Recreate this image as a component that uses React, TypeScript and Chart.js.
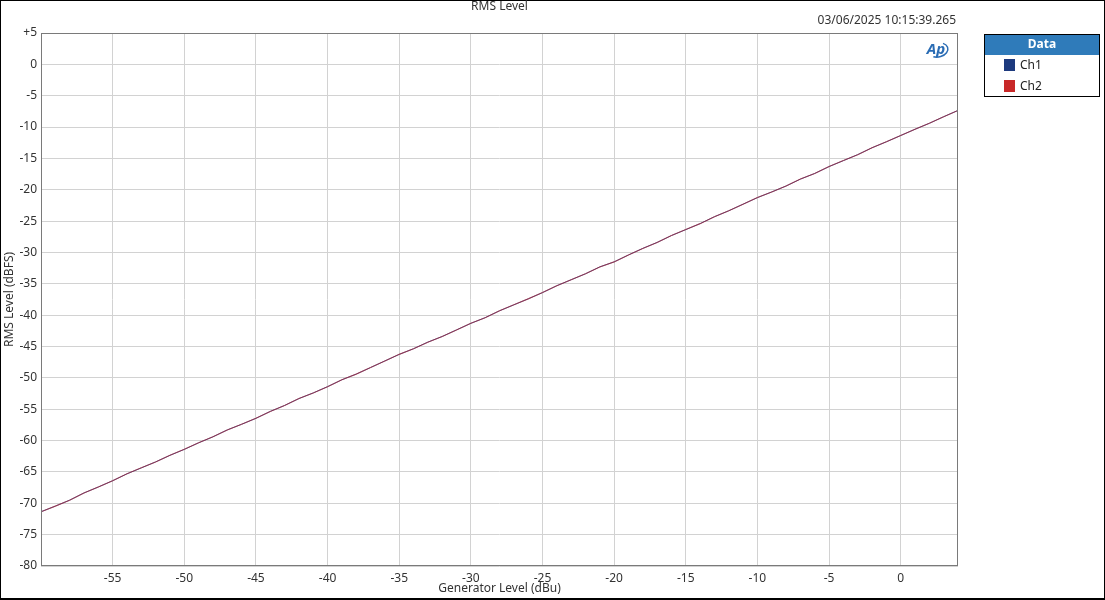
import React, { useEffect, useRef } from "react";
import { Chart, registerables } from "chart.js";

Chart.register(...registerables);

const generatorLevels = [
  -60, -59, -58, -57, -56, -55, -54, -53, -52, -51, -50, -49, -48, -47, -46, -45,
  -44, -43, -42, -41, -40, -39, -38, -37, -36, -35, -34, -33, -32, -31, -30, -29,
  -28, -27, -26, -25, -24, -23, -22, -21, -20, -19, -18, -17, -16, -15, -14, -13,
  -12, -11, -10, -9, -8, -7, -6, -5, -4, -3, -2, -1, 0, 1, 2, 3, 4,
];

const ch1Levels = [
  -71.35, -70.45, -69.5, -68.35, -67.4, -66.4, -65.3, -64.35, -63.4, -62.35, -61.4, -60.35,
  -59.4, -58.3, -57.4, -56.45, -55.35, -54.4, -53.3, -52.4, -51.4, -50.3, -49.4, -48.35,
  -47.3, -46.25, -45.35, -44.3, -43.4, -42.35, -41.3, -40.4, -39.3, -38.35, -37.4, -36.4,
  -35.3, -34.35, -33.4, -32.3, -31.5, -30.4, -29.35, -28.4, -27.3, -26.35, -25.4, -24.3,
  -23.35, -22.3, -21.25, -20.35, -19.4, -18.3, -17.4, -16.3, -15.35, -14.4, -13.3, -12.35,
  -11.35, -10.35, -9.4, -8.35, -7.35,
];

const ch2Levels = [
  -71.35, -70.45, -69.5, -68.35, -67.4, -66.4, -65.3, -64.35, -63.4, -62.35, -61.4, -60.35,
  -59.4, -58.3, -57.4, -56.45, -55.35, -54.4, -53.3, -52.4, -51.4, -50.3, -49.4, -48.35,
  -47.3, -46.25, -45.35, -44.3, -43.4, -42.35, -41.3, -40.4, -39.3, -38.35, -37.4, -36.4,
  -35.3, -34.35, -33.4, -32.3, -31.5, -30.4, -29.35, -28.4, -27.3, -26.35, -25.4, -24.3,
  -23.35, -22.3, -21.25, -20.35, -19.4, -18.3, -17.4, -16.3, -15.35, -14.4, -13.3, -12.35,
  -11.35, -10.35, -9.4, -8.35, -7.35,
];

const xTickValues = [-55, -50, -45, -40, -35, -30, -25, -20, -15, -10, -5, 0];
const yTickValues = [-80, -75, -70, -65, -60, -55, -50, -45, -40, -35, -30, -25, -20, -15, -10, -5, 0, 5];
const xRange = [-60, 4];
const yRange = [-80, 5];

const chartTitle = "RMS Level";
const timestamp = "03/06/2025 10:15:39.265";
const xAxisTitle = "Generator Level (dBu)";
const yAxisTitle = "RMS Level (dBFS)";
const legendTitle = "Data";
const seriesNames = ["Ch1", "Ch2"];
const seriesColors = ["#1d3a7e", "#c82828"];

const FONT = '"Noto Sans", "Open Sans", sans-serif';

const decorPlugin = {
  id: "decor",
  beforeDraw(chart: any) {
    const ctx = chart.ctx;
    ctx.save();
    ctx.fillStyle = "#ffffff";
    ctx.fillRect(0, 0, chart.width, chart.height);
    ctx.restore();
  },
  afterDraw(chart: any) {
    const ctx = chart.ctx;
    const a = chart.chartArea;
    ctx.save();
    // plot border
    ctx.strokeStyle = "#7a7a7a";
    ctx.lineWidth = 1;
    ctx.strokeRect(Math.round(a.left) + 0.5, Math.round(a.top) + 0.5, Math.round(a.right - a.left) - 1, Math.round(a.bottom - a.top) - 1);

    // outer frame
    ctx.fillStyle = "#000000";
    ctx.fillRect(0, 0, chart.width, 1);
    ctx.fillRect(0, 0, 1, chart.height);
    ctx.fillRect(chart.width - 1, 0, 1, chart.height);
    ctx.fillRect(0, chart.height - 2, chart.width, 2);

    // titles
    ctx.fillStyle = "#333333";
    ctx.font = `12px ${FONT}`;
    ctx.textAlign = "center";
    ctx.textBaseline = "middle";
    ctx.fillText(chartTitle, (a.left + a.right) / 2, 7);
    ctx.fillText(xAxisTitle, (a.left + a.right) / 2, 589);
    ctx.textAlign = "right";
    ctx.fillText(timestamp, a.right - 2, 21);

    ctx.save();
    ctx.translate(10, (a.top + a.bottom) / 2);
    ctx.rotate(-Math.PI / 2);
    ctx.textAlign = "center";
    ctx.fillText(yAxisTitle, 0, 0);
    ctx.restore();

    // AP logo
    ctx.save();
    ctx.fillStyle = "#2a6cb4";
    ctx.font = `italic bold 15px ${FONT}`;
    ctx.textAlign = "center";
    ctx.textBaseline = "middle";
    ctx.fillText("Ap", 936, 50);
    ctx.strokeStyle = "#2a6cb4";
    ctx.lineWidth = 1.5;
    ctx.beginPath();
    ctx.ellipse(938, 50, 10, 7, -0.2, -0.9, 2.2);
    ctx.stroke();
    ctx.restore();

    // legend
    const lx = 984, ly = 34, lw = 116, lh = 63;
    ctx.fillStyle = "#2f7bba";
    ctx.fillRect(lx, ly, lw, 21);
    ctx.strokeStyle = "#000000";
    ctx.lineWidth = 1;
    ctx.strokeRect(lx + 0.5, ly + 0.5, lw - 1, lh - 1);
    ctx.fillStyle = "#ffffff";
    ctx.font = `bold 12px ${FONT}`;
    ctx.textAlign = "center";
    ctx.fillText(legendTitle, lx + lw / 2, ly + 10.5);
    ctx.font = `12px ${FONT}`;
    ctx.textAlign = "left";
    seriesNames.forEach((name, i) => {
      const cy = 65 + i * 21;
      ctx.fillStyle = seriesColors[i];
      ctx.fillRect(1004, cy - 6, 11, 12);
      ctx.fillStyle = "#222222";
      ctx.fillText(name, 1020, cy + 0.5);
    });
    ctx.restore();
  },
};

export default function App() {
  const ref = useRef<HTMLCanvasElement | null>(null);
  useEffect(() => {
    const canvas = ref.current;
    if (!canvas) return;
    const chart = new Chart(canvas, {
      type: "line",
      data: {
        datasets: [
          {
            label: seriesNames[0],
            data: generatorLevels.map((x, i) => ({ x, y: ch1Levels[i] })),
            borderColor: seriesColors[0],
            borderWidth: 1,
            pointRadius: 0,
            tension: 0,
            order: 2,
          },
          {
            label: seriesNames[1],
            data: generatorLevels.map((x, i) => ({ x, y: ch2Levels[i] })),
            borderColor: "rgba(200,45,55,0.6)",
            borderWidth: 1.1,
            pointRadius: 0,
            tension: 0,
            order: 1,
          },
        ],
      },
      options: {
        responsive: false,
        animation: false,
        layout: { padding: { top: 33, right: 147, bottom: 0, left: 0 } },
        plugins: { legend: { display: false }, title: { display: false }, tooltip: { enabled: false } },
        scales: {
          x: {
            type: "linear",
            min: xRange[0],
            max: xRange[1],
            afterBuildTicks: (s: any) => {
              s.ticks = xTickValues.map((v) => ({ value: v }));
            },
            afterFit: (s: any) => {
              s.height = 34;
            },
            grid: { color: "#d2d2d2", drawTicks: false, lineWidth: 1 },
            border: { display: false },
            ticks: {
              autoSkip: false,
              maxRotation: 0,
              padding: 5,
              color: "#333333",
              font: { family: FONT, size: 12 },
              callback: (v: any) => String(v),
            },
          },
          y: {
            type: "linear",
            min: yRange[0],
            max: yRange[1],
            afterBuildTicks: (s: any) => {
              s.ticks = yTickValues.map((v) => ({ value: v }));
            },
            afterFit: (s: any) => {
              s.width = 41;
            },
            grid: { color: "#d2d2d2", drawTicks: false, lineWidth: 1 },
            border: { display: false },
            ticks: {
              autoSkip: false,
              padding: 4,
              color: "#333333",
              font: { family: FONT, size: 12 },
              callback: (v: any) => (Number(v) > 0 ? "+" + v : String(v)),
            },
          },
        },
      },
      plugins: [decorPlugin],
    } as any);
    return () => chart.destroy();
  }, []);
  return (
    <div style={{ position: "fixed", left: 0, top: 0, width: 1105, height: 600, background: "#fff" }}>
      <canvas ref={ref} width={1105} height={600} style={{ display: "block", width: 1105, height: 600 }} />
    </div>
  );
}
